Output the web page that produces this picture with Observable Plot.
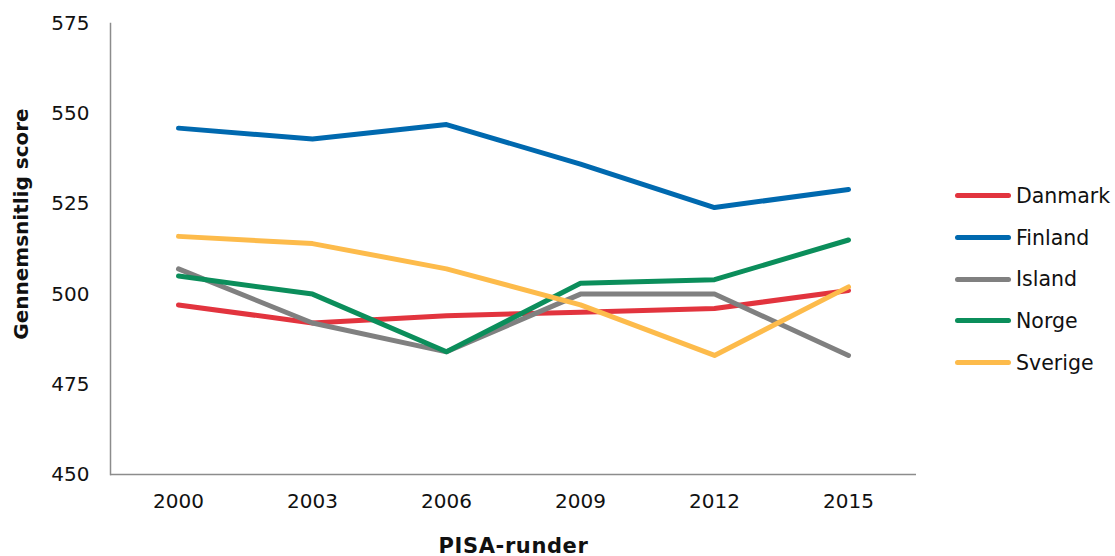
<!DOCTYPE html>
<html>
<head>
<meta charset="utf-8">
<script src="https://cdn.jsdelivr.net/npm/d3@7"></script>
<script src="https://cdn.jsdelivr.net/npm/@observablehq/plot@0.6"></script>
<style>
  html, body { margin: 0; padding: 0; background: #fff; }
  #wrap { position: relative; width: 1115px; height: 556px; font-family: "DejaVu Sans", Verdana, sans-serif; }
  #legend { position: absolute; left: 955px; top: 175px; }
  .item { display: flex; align-items: center; height: 41.7px; font-size: 20.5px; color: #111; }
  .swatch { width: 56px; height: 5px; border-radius: 3px; margin-right: 5px; }
</style>
</head>
<body>
<div id="wrap"><div id="legend"></div></div>
<script>
const years = ["2000", "2003", "2006", "2009", "2012", "2015"];
const countries = ["Danmark", "Finland", "Island", "Norge", "Sverige"];
const colors = ["#E2343E", "#0069AF", "#808080", "#0B8E5B", "#FDBB4B"];
const danmark = [497, 492, 494, 495, 496, 501];
const finland = [546, 543, 547, 536, 524, 529];
const island  = [507, 492, 484, 500, 500, 483];
const norge   = [505, 500, 484, 503, 504, 515];
const sverige = [516, 514, 507, 497, 483, 502];
const yTicks = [450, 475, 500, 525, 550, 575];

const series = [danmark, finland, island, norge, sverige];
const data = [];
countries.forEach((c, i) => years.forEach((y, j) => data.push({country: c, year: y, score: series[i][j]})));

const chart = Plot.plot({
  width: 1115,
  height: 556,
  marginLeft: 110,
  marginRight: 199,
  marginTop: 23,
  marginBottom: 82,
  style: {fontFamily: "DejaVu Sans, Verdana, sans-serif", fontSize: "20px", color: "#111", background: "#fff"},
  x: {type: "point", domain: years, padding: 0.5},
  y: {domain: [450, 575]},
  color: {domain: countries, range: colors},
  marks: [
    Plot.axisY({ticks: yTicks, tickSize: 0, tickPadding: 21, label: "Gennemsnitlig score", labelAnchor: "center", labelOffset: 97, labelArrow: "none", fontSize: 20}),
    Plot.axisX({tickSize: 0, tickPadding: 19, label: "PISA-runder", labelAnchor: "center", labelOffset: 78, labelArrow: "none", fontSize: 20}),
    Plot.ruleY([450], {stroke: "#8c8c8c", strokeWidth: 1.5}),
    Plot.frame({anchor: "left", stroke: "#8c8c8c", strokeWidth: 1.5}),
    Plot.line(data, {x: "year", y: "score", z: "country", stroke: "country", strokeWidth: 5, strokeLinecap: "round", strokeLinejoin: "round"})
  ]
});
const yl = chart.querySelector("[aria-label='y-axis label']");
const xl = chart.querySelector("[aria-label='x-axis label']");
[[yl, "20", "0"], [xl, "21", "0.6"]].forEach(([g, fs, ls]) => {
  if (!g) return;
  g.setAttribute("font-weight", "bold");
  g.setAttribute("font-size", fs);
  g.setAttribute("letter-spacing", ls);
  g.querySelectorAll("text").forEach(t => { t.setAttribute("font-weight", "bold"); t.setAttribute("font-size", fs); });
});
if (yl) {
  const prev = yl.getAttribute("transform") || "";
  yl.setAttribute("transform", "translate(0,-25) " + prev);
}
document.getElementById("wrap").prepend(chart);

const legend = document.getElementById("legend");
countries.forEach((c, i) => {
  const it = document.createElement("div");
  it.className = "item";
  const sw = document.createElement("div");
  sw.className = "swatch";
  sw.style.background = colors[i];
  const lab = document.createElement("span");
  lab.textContent = c;
  it.append(sw, lab);
  legend.append(it);
});
</script>
</body>
</html>
